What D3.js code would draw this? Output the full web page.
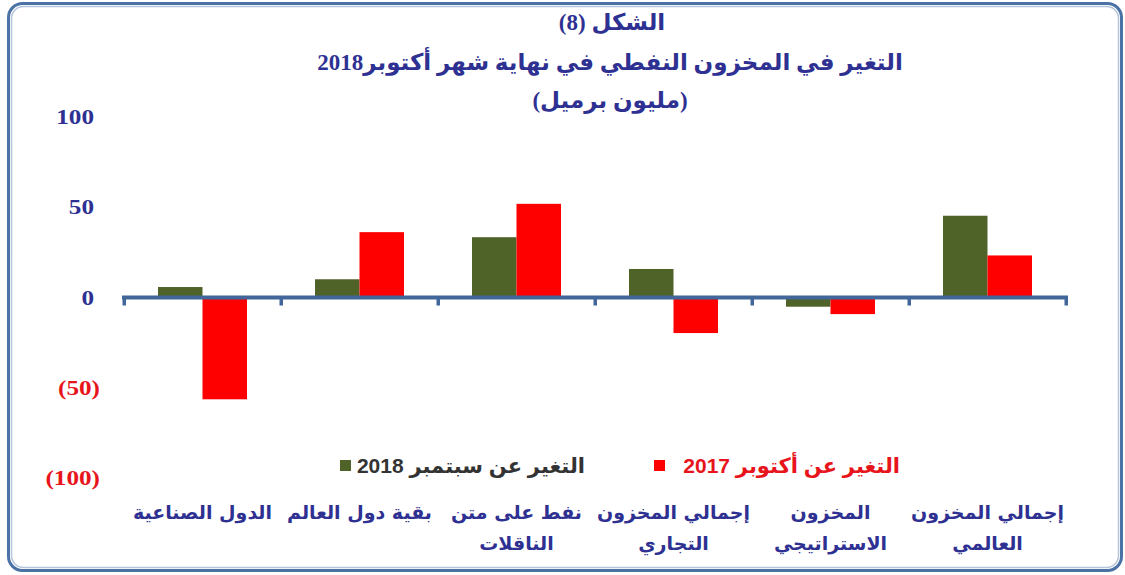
<!DOCTYPE html>
<html><head><meta charset="utf-8">
<script src="https://cdn.jsdelivr.net/npm/d3@7"></script>
<style>body{margin:0;background:#fff}svg{display:block}</style>
</head><body><svg id="c" width="1125" height="575"></svg>
<script>
const categories = ["الدول الصناعية","بقية دول العالم","نفط على متن الناقلات","إجمالي المخزون التجاري","المخزون الاستراتيجي","إجمالي المخزون العالمي"];
const categoryLines = [["الدول الصناعية"],["بقية دول العالم"],["نفط على متن","الناقلات"],["إجمالي المخزون","التجاري"],["المخزون","الاستراتيجي"],["إجمالي المخزون","العالمي"]];
const seriesNames = ["التغير عن سبتمبر 2018","التغير عن أكتوبر 2017"];
const sep2018 = [5.8, 10.1, 33.4, 15.8, -5.1, 45.3];
const oct2017 = [-56.4, 36.2, 51.9, -19.7, -9.2, 23.3];
const tickValues = [100, 50, 0, -50, -100];
const titleLines = ["الشكل (8)","التغير في المخزون النفطي في نهاية شهر أكتوبر2018","(مليون برميل)"];

const colors = ["#4F6228", "#FF0000"];
const navy = "#2E3192";
const svg = d3.select("#c");

// border
svg.append("rect").attr("x",8.5).attr("y",3.5).attr("width",1113).attr("height",567).attr("rx",14)
  .attr("fill","none").attr("stroke","#4A72A4").attr("stroke-width",3);
svg.append("rect").attr("x",11.5).attr("y",6.5).attr("width",1107).attr("height",561).attr("rx",12)
  .attr("fill","none").attr("stroke","#B5C5DC").attr("stroke-width",1.5);

const x0 = d3.scaleBand().domain(categories).range([124, 1066]).padding(0);
const bw = x0.bandwidth();
const x1 = d3.scaleBand().domain(seriesNames).range([bw*34/157, bw*123/157]).padding(0);
const y = d3.scaleLinear().domain([-100, 100]).range([478, 117]);

function stext(x, yy, str, size, color, anchor, family, sx) {
  return svg.append("text")
    .attr("transform", `translate(${x},${yy}) scale(${sx||1},1)`)
    .attr("text-anchor", anchor || "middle")
    .attr("font-family", family || "'DejaVu Sans', sans-serif")
    .attr("font-weight", "bold")
    .attr("font-size", size)
    .attr("fill", color)
    .attr("direction", "rtl")
    .text(str);
}

// title
const titleFam = "'Liberation Serif','DejaVu Sans',serif";
stext(612, 30, titleLines[0], 23, navy, "middle", titleFam);
stext(610, 70, titleLines[1], 23, navy, "middle", titleFam);
stext(610, 108, titleLines[2], 23, navy, "middle", titleFam);

// y tick labels
tickValues.forEach(v => {
  const neg = v < 0;
  const lab = neg ? "(" + Math.abs(v) + ")" : String(v);
  stext(neg ? 100 : 94, y(v) + 7, lab, 21, neg ? "#E8141B" : navy, "end", "'Liberation Serif',serif", 1.2)
    .attr("direction","ltr");
});

// bars
const data = categories.map((c, i) => ({c, vals: [sep2018[i], oct2017[i]]}));
const g = svg.append("g");
data.forEach(d => {
  d.vals.forEach((v, j) => {
    g.append("rect")
      .attr("x", x0(d.c) + x1(seriesNames[j]))
      .attr("width", x1.bandwidth())
      .attr("y", Math.min(y(v), y(0)))
      .attr("height", Math.abs(y(v) - y(0)))
      .attr("fill", colors[j]);
  });
});

// axis line + ticks
const axisColor = "#41679A";
svg.append("line").attr("x1", 122).attr("x2", 1068).attr("y1", y(0)).attr("y2", y(0))
  .attr("stroke", axisColor).attr("stroke-width", 4);
const bounds = categories.map(c => x0(c)).concat([x0.range()[1]]);
bounds.forEach(b => {
  svg.append("rect").attr("x", b - 1.5).attr("y", y(0)).attr("width", 3.5).attr("height", 8).attr("fill", axisColor);
});

// category labels
categories.forEach((c, i) => {
  categoryLines[i].forEach((ln, k) => {
    stext(x0(c) + bw/2, 519 + k*31, ln, 19, navy, "middle");
  });
});

// legend
const legend = [
  {name: seriesNames[0], color: colors[0], text: "#333333", sq: 340, tx: 585},
  {name: seriesNames[1], color: colors[1], text: "#E8141B", sq: 654, tx: 900}
];
legend.forEach(l => {
  svg.append("rect").attr("x", l.sq).attr("y", 460).attr("width", 11).attr("height", 11).attr("fill", l.color);
  stext(l.tx, 473, l.name, 21, l.text, "start", "'Liberation Sans','DejaVu Sans',sans-serif");
});
</script></body></html>
